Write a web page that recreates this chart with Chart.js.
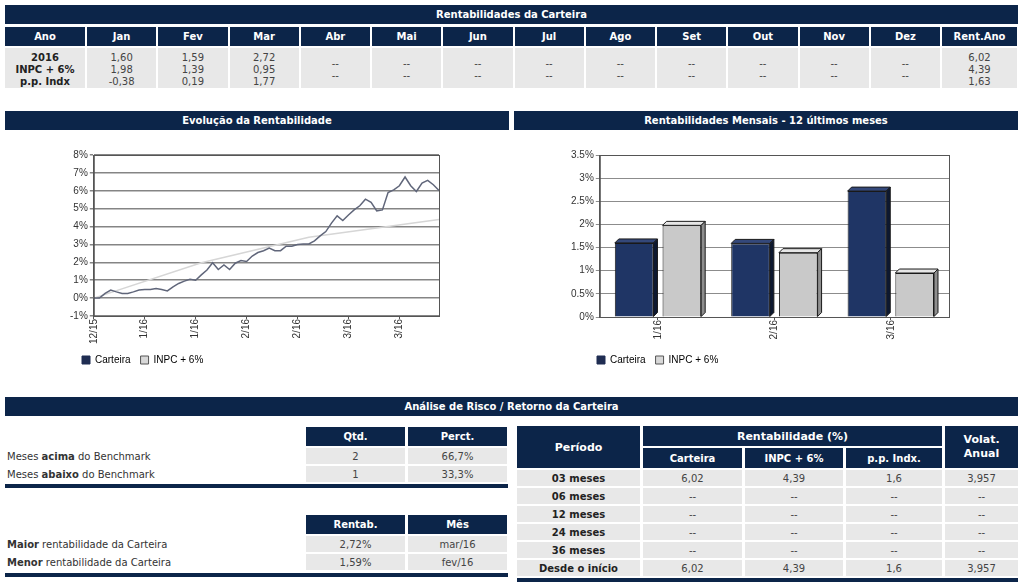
<!DOCTYPE html>
<html>
<head>
<meta charset="utf-8">
<script src="https://cdn.jsdelivr.net/npm/chart.js@4.4.1/dist/chart.umd.min.js"></script>
<style>
  body { margin: 0; width: 1024px; height: 586px; background: #fff; font-family: "DejaVu Sans", Verdana, sans-serif; font-size: 10px; position: relative; overflow: hidden; }
  .bar { position: absolute; background: #0c2549; color: #fff; font-weight: bold; text-align: center; height: 19px; line-height: 19px; font-size: 10px; }
  .rule { position: absolute; background: #0c2549; height: 4px; }
  table { position: absolute; border-collapse: separate; table-layout: fixed; }
  th { background: #0c2549; color: #fff; font-weight: bold; font-size: 10px; padding: 0; text-align: center; }
  td { background: #e8e8e8; color: #444; text-align: center; padding: 0; font-size: 10px; }
  td.lbl { background: transparent; text-align: left; color: #333; padding-left: 2px; }
  td.b { font-weight: bold; color: #222; }
  #topTable td { padding-top: 3px; }
  canvas { position: absolute; }
</style>
</head>
<body>
<div class="bar" style="left:5px;top:5px;width:1013px;">Rentabilidades da Carteira</div>
<table id="topTable" style="left:3px;top:25px;width:1016px;border-spacing:2px;"></table>

<div class="bar" style="left:5px;top:111px;width:504px;">Evolução da Rentabilidade</div>
<div class="bar" style="left:514px;top:111px;width:504px;">Rentabilidades Mensais - 12 últimos meses</div>
<canvas id="lineChart" width="391" height="230" style="left:60px;top:145px;"></canvas>
<canvas id="barChart" width="399" height="230" style="left:560px;top:145px;"></canvas>

<div class="bar" style="left:5px;top:397px;width:1013px;">Análise de Risco / Retorno da Carteira</div>

<table style="left:2px;top:425px;width:508px;border-spacing:3px 2px;">
  <colgroup><col style="width:298px"><col style="width:99px"><col style="width:99px"></colgroup>
  <tr style="height:19px"><td class="lbl"></td><th>Qtd.</th><th>Perct.</th></tr>
  <tr style="height:16px"><td class="lbl">Meses <b>acima</b> do Benchmark</td><td id="qA"></td><td id="pA"></td></tr>
  <tr style="height:16px"><td class="lbl">Meses <b>abaixo</b> do Benchmark</td><td id="qB"></td><td id="pB"></td></tr>
</table>
<div class="rule" style="left:5px;top:484px;width:503px;"></div>

<table style="left:2px;top:513px;width:508px;border-spacing:3px 2px;">
  <colgroup><col style="width:298px"><col style="width:99px"><col style="width:99px"></colgroup>
  <tr style="height:19px"><td class="lbl"></td><th>Rentab.</th><th>Mês</th></tr>
  <tr style="height:16px"><td class="lbl"><b>Maior</b> rentabilidade da Carteira</td><td id="maxR"></td><td id="maxM"></td></tr>
  <tr style="height:16px"><td class="lbl"><b>Menor</b> rentabilidade da Carteira</td><td id="minR"></td><td id="minM"></td></tr>
</table>
<div class="rule" style="left:5px;top:573px;width:503px;"></div>

<table id="perTable" style="left:514px;top:424px;width:507px;border-spacing:3px 2px;">
  <colgroup><col style="width:123px"><col style="width:99px"><col style="width:98px"><col style="width:96px"><col style="width:73px"></colgroup>
  <tr style="height:20px"><th rowspan="2" style="font-size:11px">Período</th><th colspan="3" style="font-size:11px">Rentabilidade (%)</th><th rowspan="2" style="font-size:11px;line-height:14px">Volat.<br>Anual</th></tr>
  <tr style="height:20px"><th>Carteira</th><th>INPC + 6%</th><th>p.p. Indx.</th></tr>
</table>
<div class="rule" style="left:517px;top:578px;width:501px;"></div>

<script>
// ---- tabela de rentabilidades
const months = ['Jan', 'Fev', 'Mar', 'Abr', 'Mai', 'Jun', 'Jul', 'Ago', 'Set', 'Out', 'Nov', 'Dez'];
const rowNames = ['2016', 'INPC + 6%', 'p.p. Indx'];
const carteiraMes = ['1,60', '1,59', '2,72'];
const inpcMes = ['1,98', '1,39', '0,95'];
const ppMes = ['-0,38', '0,19', '1,77'];
const rentAno = ['6,02', '4,39', '1,63'];

// ---- evolucao (acumulado %)
const evoTicks = ['12/15', '1/16', '1/16', '2/16', '2/16', '3/16', '3/16'];
const tickEvery = 9;
const carteiraEvo = [0, 0, 0.26, 0.45, 0.35, 0.26, 0.26, 0.35, 0.45, 0.48,
  0.48, 0.54, 0.48, 0.40, 0.63, 0.82, 0.95, 1.05, 1.00, 1.30,
  1.57, 1.98, 1.60, 1.85, 1.60, 1.95, 2.10, 2.05, 2.35, 2.55,
  2.65, 2.80, 2.65, 2.65, 2.90, 2.90, 3.00, 3.03, 3.03, 3.20,
  3.48, 3.72, 4.19, 4.60, 4.34, 4.65, 4.93, 5.16, 5.53, 5.35,
  4.88, 4.93, 5.90, 6.05, 6.28, 6.77, 6.28, 5.96, 6.43, 6.58,
  6.34, 6.02];
const inpcEvoIdx = [0, 19, 38, 61];
const inpcEvoVal = [0, 1.98, 3.40, 4.39];

// ---- mensais
const barLabels = ['1/16', '2/16', '3/16'];
const barCarteira = [1.60, 1.59, 2.72];
const barInpc = [1.98, 1.39, 0.95];

// ---- risco / retorno
const acima = ['2', '66,7%'];
const abaixo = ['1', '33,3%'];
const maior = ['2,72%', 'mar/16'];
const menor = ['1,59%', 'fev/16'];
const periodos = ['03 meses', '06 meses', '12 meses', '24 meses', '36 meses', 'Desde o início'];
const perCarteira = ['6,02', '--', '--', '--', '--', '6,02'];
const perInpc = ['4,39', '--', '--', '--', '--', '4,39'];
const perPP = ['1,6', '--', '--', '--', '--', '1,6'];
const perVol = ['3,957', '--', '--', '--', '--', '3,957'];

// top table
const topT = document.getElementById('topTable');
let html = '<colgroup><col style="width:80px">' + months.map(() => '<col>').join('') + '<col style="width:75px"></colgroup>';
html += '<tr style="height:19px"><th>Ano</th>' + months.map(m => '<th>' + m + '</th>').join('') + '<th>Rent.Ano</th></tr>';
html += '<tr style="height:40px;line-height:12px"><td class="b">' + rowNames.join('<br>') + '</td>';
months.forEach((m, i) => {
  if (i < carteiraMes.length) html += '<td>' + [carteiraMes[i], inpcMes[i], ppMes[i]].join('<br>') + '</td>';
  else html += '<td>--<br>--</td>';
});
html += '<td>' + rentAno.join('<br>') + '</td></tr>';
topT.innerHTML = html;

document.getElementById('qA').textContent = acima[0];
document.getElementById('pA').textContent = acima[1];
document.getElementById('qB').textContent = abaixo[0];
document.getElementById('pB').textContent = abaixo[1];
document.getElementById('maxR').textContent = maior[0];
document.getElementById('maxM').textContent = maior[1];
document.getElementById('minR').textContent = menor[0];
document.getElementById('minM').textContent = menor[1];

const perT = document.getElementById('perTable');
periodos.forEach((p, i) => {
  const tr = document.createElement('tr');
  tr.style.height = '16px';
  tr.innerHTML = '<td class="b">' + p + '</td><td>' + perCarteira[i] + '</td><td>' + perInpc[i] +
    '</td><td>' + perPP[i] + '</td><td>' + perVol[i] + '</td>';
  perT.appendChild(tr);
});

// charts
Chart.defaults.font.family = '"Liberation Sans", Arial, sans-serif';
Chart.defaults.font.size = 10;
Chart.defaults.color = '#333';

const legendItems = [
  { text: 'Carteira', fillStyle: '#1f2d52', strokeStyle: '#1f2d52', lineWidth: 1, datasetIndex: 0 },
  { text: 'INPC + 6%', fillStyle: '#d8d8d8', strokeStyle: '#555', lineWidth: 1, datasetIndex: 1 }
];
const legendOpts = {
  position: 'bottom', align: 'start',
  labels: { boxWidth: 8, boxHeight: 8, padding: 10, font: { size: 10 }, color: '#333', generateLabels: () => legendItems }
};

// legend start shifted to sit under the y axis, like the original
const legendShift = shift => ({
  id: 'legendShift',
  afterLayout(chart) { chart.legend.left += shift; }
});

const frame = {
  id: 'frame',
  afterDraw(chart) {
    const a = chart.chartArea, c = chart.ctx;
    c.save();
    c.strokeStyle = '#555';
    c.lineWidth = 1;
    c.strokeRect(a.left + 0.5, a.top + 0.5, a.right - a.left, a.bottom - a.top);
    c.restore();
  }
};

const evoLabels = carteiraEvo.map((_, i) => i % tickEvery === 0 ? evoTicks[i / tickEvery] : '');
const inpcEvo = carteiraEvo.map((_, i) => {
  const k = inpcEvoIdx.indexOf(i);
  return k >= 0 ? inpcEvoVal[k] : null;
});

new Chart(document.getElementById('lineChart'), {
  type: 'line',
  data: {
    labels: evoLabels,
    datasets: [
      { label: 'Carteira', data: carteiraEvo, borderColor: '#60667a', borderWidth: 1.5, pointRadius: 0, tension: 0, order: 0 },
      { label: 'INPC + 6%', data: inpcEvo, borderColor: '#d6d6d6', borderWidth: 1.5, pointRadius: 0, spanGaps: true, order: 1 }
    ]
  },
  options: {
    responsive: false, animation: false,
    layout: { padding: { left: 8, right: 10, top: 10, bottom: 0 } },
    plugins: { legend: legendOpts, tooltip: { enabled: false } },
    scales: {
      x: {
        ticks: { autoSkip: false, maxRotation: 90, minRotation: 90, padding: 0 },
        grid: { drawOnChartArea: false, tickLength: 3, color: ctx => evoLabels[ctx.index] ? '#555' : 'rgba(0,0,0,0)' },
        border: { color: '#555' },
        afterFit: s => { s.height = 29; }
      },
      y: {
        min: -1, max: 8,
        ticks: { stepSize: 1, callback: v => v + '%', padding: 2 },
        grid: { color: '#858585', lineWidth: 1.5, tickLength: 4 },
        border: { color: '#555' }
      }
    }
  },
  plugins: [frame, legendShift(4)]
});

const bars3d = {
  id: 'bars3d',
  afterDatasetsDraw(chart) {
    const c = chart.ctx, d = 4;
    const tops = ['#34487a', '#e6e6e6'], sides = ['#0d1830', '#8e8e8e'];
    chart.data.datasets.forEach((ds, i) => {
      chart.getDatasetMeta(i).data.forEach(bar => {
        const l = bar.x - bar.width / 2, r = bar.x + bar.width / 2, y = bar.y, b = bar.base;
        c.save();
        c.strokeStyle = '#1a1a1a';
        c.lineWidth = 1;
        c.beginPath();
        c.moveTo(l, y); c.lineTo(l + d, y - d); c.lineTo(r + d, y - d); c.lineTo(r, y); c.closePath();
        c.fillStyle = tops[i]; c.fill(); c.stroke();
        c.beginPath();
        c.moveTo(r, y); c.lineTo(r + d, y - d); c.lineTo(r + d, b - d); c.lineTo(r, b); c.closePath();
        c.fillStyle = sides[i]; c.fill(); c.stroke();
        c.restore();
      });
    });
  }
};

new Chart(document.getElementById('barChart'), {
  type: 'bar',
  data: {
    labels: barLabels,
    datasets: [
      { label: 'Carteira', data: barCarteira, backgroundColor: '#1f3565', borderColor: '#1a1a1a', borderWidth: 1, categoryPercentage: 0.82, barPercentage: 0.81 },
      { label: 'INPC + 6%', data: barInpc, backgroundColor: '#c9c9c9', borderColor: '#1a1a1a', borderWidth: 1, categoryPercentage: 0.82, barPercentage: 0.81 }
    ]
  },
  options: {
    responsive: false, animation: false,
    layout: { padding: { left: 9, right: 10, top: 10, bottom: 0 } },
    plugins: { legend: legendOpts, tooltip: { enabled: false } },
    scales: {
      x: {
        ticks: { maxRotation: 90, minRotation: 90, padding: 0 },
        grid: { drawOnChartArea: false, tickLength: 3, color: '#555', offset: false },
        border: { color: '#555' },
        afterFit: s => { s.height = 28; }
      },
      y: {
        min: 0, max: 3.5,
        ticks: { stepSize: 0.5, callback: v => v + '%', padding: 2 },
        grid: { color: '#8c8c8c', lineWidth: 1, tickLength: 4 },
        border: { color: '#555' }
      }
    }
  },
  plugins: [bars3d, frame, legendShift(18)]
});
</script>
</body>
</html>
